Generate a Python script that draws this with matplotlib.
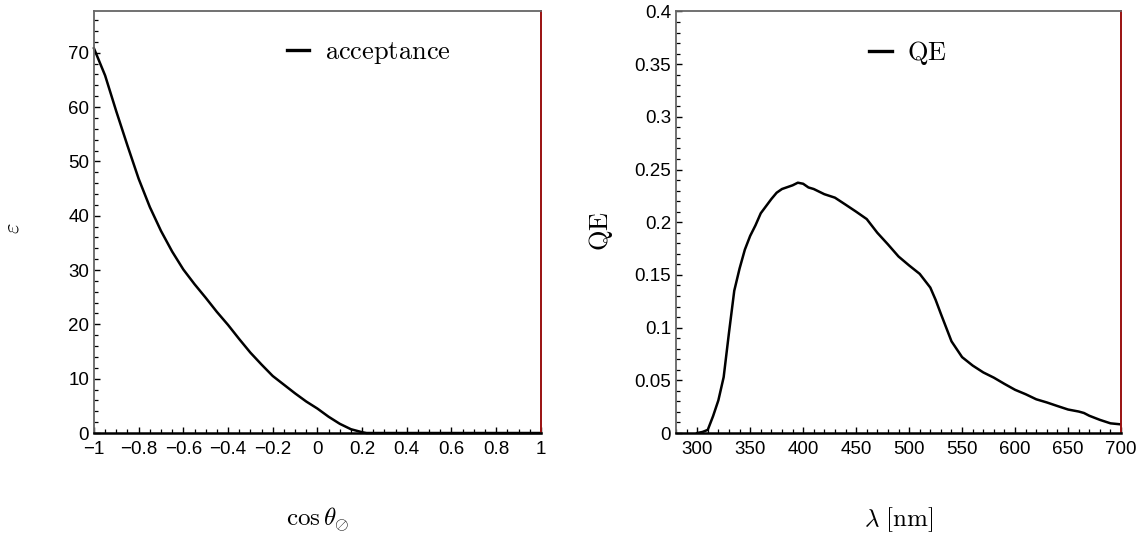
import matplotlib
matplotlib.use('Agg')
import matplotlib.pyplot as plt
from matplotlib.ticker import MultipleLocator, FixedLocator, FixedFormatter

plt.rcParams['font.family'] = ['Liberation Sans', 'DejaVu Sans']
plt.rcParams['mathtext.fontset'] = 'cm'

# acceptance vs cos(theta)
cos_theta = [-1.0, -0.95, -0.9, -0.85, -0.8, -0.75, -0.7, -0.65, -0.6, -0.55,
             -0.5, -0.45, -0.4, -0.35, -0.3, -0.25, -0.2, -0.15, -0.1, -0.05,
             0.0, 0.05, 0.1, 0.15, 0.2, 0.22, 0.3, 0.4, 0.5, 0.6, 0.7, 0.8, 0.9, 1.0]
acceptance = [70.8, 65.8, 59.2, 52.9, 46.8, 41.6, 37.2, 33.4, 30.1, 27.4,
              24.9, 22.3, 19.9, 17.3, 14.8, 12.6, 10.5, 8.9, 7.3, 5.8,
              4.5, 3.0, 1.7, 0.7, 0.15, 0.0, 0.0, 0.0, 0.0, 0.0, 0.0, 0.0, 0.0, 0.0]

# quantum efficiency vs wavelength
wavelength = [300, 305, 310, 315, 320, 325, 330, 335, 340, 345, 350, 355, 360,
              370, 375, 380, 390, 395, 400, 405, 410, 420, 430, 440, 450, 460,
              470, 480, 490, 500, 510, 515, 520, 525, 530, 540, 550, 560, 570,
              580, 590, 600, 610, 620, 630, 640, 650, 660, 665, 670, 680, 690, 700]
qe = [0.0, 0.001, 0.003, 0.016, 0.031, 0.053, 0.095, 0.135, 0.156, 0.174, 0.187,
      0.197, 0.2085, 0.222, 0.228, 0.2315, 0.235, 0.2375, 0.2365, 0.233, 0.2315,
      0.2266, 0.2233, 0.2167, 0.210, 0.203, 0.190, 0.179, 0.1675, 0.159, 0.151,
      0.1445, 0.138, 0.1264, 0.113, 0.087, 0.072, 0.064, 0.0575, 0.0525, 0.0466,
      0.041, 0.0368, 0.032, 0.029, 0.0256, 0.0223, 0.0204, 0.019, 0.0164, 0.0125,
      0.0092, 0.0082]

left_xticks = [-1, -0.8, -0.6, -0.4, -0.2, 0, 0.2, 0.4, 0.6, 0.8, 1]
left_xlabels = ['\u22121', '\u22120.8', '\u22120.6', '\u22120.4', '\u22120.2',
                '0', '0.2', '0.4', '0.6', '0.8', '1']
left_yticks = [0, 10, 20, 30, 40, 50, 60, 70]
left_ylabels = ['0', '10', '20', '30', '40', '50', '60', '70']
right_xticks = [300, 350, 400, 450, 500, 550, 600, 650, 700]
right_xlabels = ['300', '350', '400', '450', '500', '550', '600', '650', '700']
right_yticks = [0, 0.05, 0.1, 0.15, 0.2, 0.25, 0.3, 0.35, 0.4]
right_ylabels = ['0', '0.05', '0.1', '0.15', '0.2', '0.25', '0.3', '0.35', '0.4']


def style_frame(ax, xticks, xlabels, yticks, ylabels, xminor, yminor):
    ax.spines['top'].set_color('#666666')
    ax.spines['left'].set_color('#666666')
    ax.spines['top'].set_linewidth(1.3)
    ax.spines['left'].set_linewidth(1.3)
    ax.spines['bottom'].set_color('black')
    ax.spines['bottom'].set_linewidth(1.8)
    ax.spines['right'].set_color('#9a1010')
    ax.spines['right'].set_linewidth(1.4)
    ax.xaxis.set_major_locator(FixedLocator(xticks))
    ax.xaxis.set_major_formatter(FixedFormatter(xlabels))
    ax.yaxis.set_major_locator(FixedLocator(yticks))
    ax.yaxis.set_major_formatter(FixedFormatter(ylabels))
    ax.xaxis.set_minor_locator(MultipleLocator(xminor))
    ax.yaxis.set_minor_locator(MultipleLocator(yminor))
    ax.tick_params(which='both', direction='in', top=False, right=False,
                   labelsize=13.5, color='black')
    ax.tick_params(which='major', length=4.5, width=1.0)
    ax.tick_params(which='minor', length=2.6, width=0.9)
    ax.tick_params(axis='y', pad=3.5)
    ax.tick_params(axis='x', pad=6)


fig = plt.figure(figsize=(11.43, 5.44), dpi=100)
ax1 = fig.add_axes([0.0822, 0.204, 0.391, 0.775])
ax2 = fig.add_axes([0.5914, 0.204, 0.3894, 0.775])

ax1.plot(cos_theta, acceptance, color='black', lw=1.8, label=r'$\mathrm{acceptance}$',
         clip_on=False)
ax1.set_xlim(-1, 1)
ax1.set_ylim(0, 77.6)
style_frame(ax1, left_xticks, left_xlabels, left_yticks, left_ylabels, 0.05, 2)
ax1.set_xlabel(r'$\cos\theta_{\oslash}$', fontsize=18)
ax1.xaxis.set_label_coords(0.5, -0.206)
ax1.xaxis.label.set_verticalalignment('center')
ax1.set_ylabel(r'$\varepsilon$', fontsize=16)
ax1.yaxis.set_label_coords(-0.181, 0.486)
ax1.yaxis.label.set_verticalalignment('center')
leg1 = ax1.legend(loc='center left', bbox_to_anchor=(0.432, 0.902), frameon=False,
                  fontsize=19, handlelength=0.85, handletextpad=0.6,
                  borderpad=0, borderaxespad=0)
for h in leg1.get_lines():
    h.set_linewidth(2.4)

ax2.plot(wavelength, qe, color='black', lw=1.8, label=r'$\mathrm{QE}$')
ax2.set_xlim(280, 700)
ax2.set_ylim(0, 0.4)
style_frame(ax2, right_xticks, right_xlabels, right_yticks, right_ylabels, 10, 0.01)
ax2.set_xlabel(r'$\lambda\ [\mathrm{nm}]$', fontsize=18)
ax2.xaxis.set_label_coords(0.5, -0.206)
ax2.xaxis.label.set_verticalalignment('center')
ax2.set_ylabel(r'$\mathrm{QE}$', fontsize=19)
ax2.yaxis.set_label_coords(-0.169, 0.48)
ax2.yaxis.label.set_verticalalignment('center')
leg2 = ax2.legend(loc='center left', bbox_to_anchor=(0.434, 0.902), frameon=False,
                  fontsize=19, handlelength=0.85, handletextpad=0.6,
                  borderpad=0, borderaxespad=0)
for h in leg2.get_lines():
    h.set_linewidth(2.4)

fig.savefig('out.png', dpi=100)
